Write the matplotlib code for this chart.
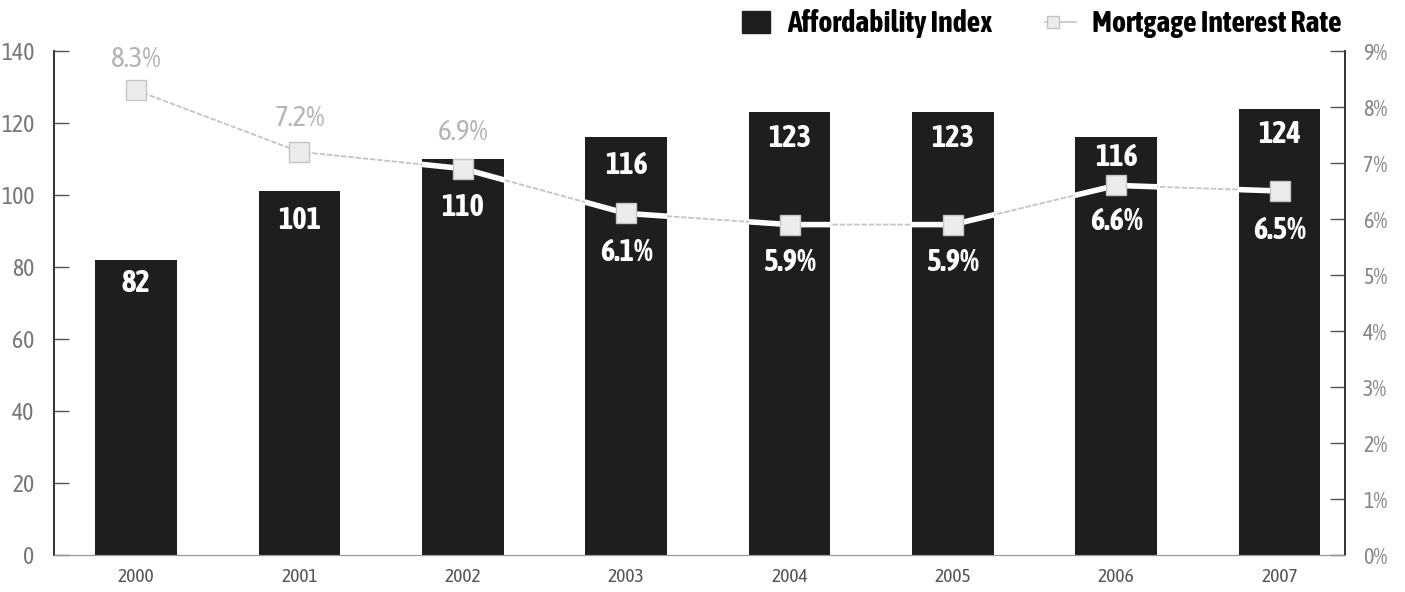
import matplotlib
matplotlib.use('Agg')
import matplotlib.pyplot as plt
from matplotlib import font_manager
from matplotlib.lines import Line2D
from matplotlib.patches import Rectangle

# data
years = ['2000', '2001', '2002', '2003', '2004', '2005', '2006', '2007']
affordability = [82, 101, 110, 116, 123, 123, 116, 124]
mortgage_rate = [8.3, 7.2, 6.9, 6.1, 5.9, 5.9, 6.6, 6.5]

# where the value labels sit (index units / rate units)
bar_label_y = [75.5, 93.0, 96.5, 108.3, 115.8, 115.8, 110.3, 116.7]
rate_label_y = [8.85, 7.8, 7.55, 5.4, 5.23, 5.23, 5.95, 5.8]


def weight_of(f):
    w = f.weight
    if isinstance(w, str):
        w = font_manager.weight_dict.get(w, 400)
    return w


# the original uses a condensed face, take one if the box has it (upright only)
plain, heavy = set(), set()
for f in font_manager.fontManager.ttflist:
    if f.style != 'normal':
        continue
    if 'Narrow' in f.name or 'Condensed' in f.name or f.stretch in ('condensed', 'semi-condensed'):
        if weight_of(f) >= 600:
            heavy.add(f.name)
        else:
            plain.add(f.name)
both = sorted(plain & heavy)
plain = both[:1] or sorted(plain)[:1]
heavy = both[:1] or sorted(heavy)[:1]
narrow = plain + ['Liberation Sans', 'DejaVu Sans']
narrow_bold = heavy + ['Liberation Sans', 'DejaVu Sans']

bar_color = '#1e1e1e'
line_color = '#c4c4c4'

W, H = 1405, 592
fig = plt.figure(figsize=(W / 100, H / 100), dpi=100)
ax = fig.add_axes([54 / W, 37 / H, (1345 - 54) / W, (555 - 51) / H])
ax2 = ax.twinx()

x = list(range(len(years)))
bars = ax.bar(x, affordability, width=0.5, color=bar_color, zorder=2)
ax.set_xlim(-0.502, 7.40)
ax.set_ylim(0, 140)
ax.set_yticks(range(0, 141, 20))
ax.set_xticks(x)
ax.set_xticklabels(years)

for i, v in enumerate(affordability):
    ax.text(i, bar_label_y[i], str(v), ha='center', va='center', color='white',
            fontsize=22, fontweight='bold', family=narrow_bold, zorder=5)

ax2.set_ylim(0, 9)
ax2.set_yticks(range(0, 10))
ax2.set_yticklabels([f'{t}%' for t in range(0, 10)])

# thin grey line on paper, wide white stroke where it crosses a bar
ax2.plot(x, mortgage_rate, color=line_color, linewidth=1.3, linestyle=(0, (3, 1)), zorder=2)
for b in bars:
    seg, = ax2.plot(x, mortgage_rate, color='white', linewidth=4, zorder=2.5)
    seg.set_clip_path(b)
ax2.plot(x, mortgage_rate, linestyle='none', marker='s', markersize=14,
         markerfacecolor='#ececec', markeredgecolor='#c4c4c4', zorder=3)

for i, r in enumerate(mortgage_rate):
    if r > bar_label_y[i] / 140 * 9 + 0.4:
        ax2.text(i, rate_label_y[i], f'{r}%', ha='center', va='center',
                 color='#b4b4b4', fontsize=21, family=narrow)
    else:
        ax2.text(i, rate_label_y[i], f'{r}%', ha='center', va='center',
                 color='white', fontsize=22, fontweight='bold', family=narrow_bold)

ax.set_zorder(ax2.get_zorder() - 1)
ax.patch.set_visible(True)
ax2.patch.set_visible(False)

for a in (ax, ax2):
    a.spines['top'].set_visible(False)
    a.spines['left'].set_color('#333333')
    a.spines['right'].set_color('#333333')
    a.spines['bottom'].set_color('#999999')
    a.spines['bottom'].set_linestyle((0, (2, 1)))
    a.spines['left'].set_linewidth(1.2)
    a.spines['right'].set_linewidth(1.2)

ax.tick_params(axis='y', direction='in', length=11, width=1, color='#555555',
               labelsize=17, labelcolor='#777777', pad=14)
ax2.tick_params(axis='y', direction='in', length=11, width=1, color='#555555',
                labelsize=16, labelcolor='#888888', pad=13)
ax.tick_params(axis='x', length=0, labelsize=14, labelcolor='#555555', pad=9)
for lbl in ax.get_xticklabels() + ax.get_yticklabels() + ax2.get_yticklabels():
    lbl.set_family(narrow)

# legend drawn by hand so it sits where the original has it
fig.patches.append(Rectangle((742 / W, 1 - 33 / H), 28 / W, 22 / H,
                             transform=fig.transFigure, color=bar_color))
fig.text(787 / W, 1 - 32 / H, 'Affordability Index', ha='left', va='baseline',
         fontsize=21.5, fontweight='bold', family=narrow_bold)
fig.lines.append(Line2D([1045 / W, 1076 / W], [1 - 22 / H, 1 - 22 / H],
                        transform=fig.transFigure, color=line_color, linewidth=1.2))
fig.lines.append(Line2D([1053 / W], [1 - 22 / H], transform=fig.transFigure,
                        marker='s', markersize=8, markerfacecolor='#ececec',
                        markeredgecolor='#c4c4c4', linestyle='none'))
fig.text(1092 / W, 1 - 32 / H, 'Mortgage Interest Rate', ha='left', va='baseline',
         fontsize=21.5, fontweight='bold', family=narrow_bold)

fig.savefig('out.png', dpi=100)
